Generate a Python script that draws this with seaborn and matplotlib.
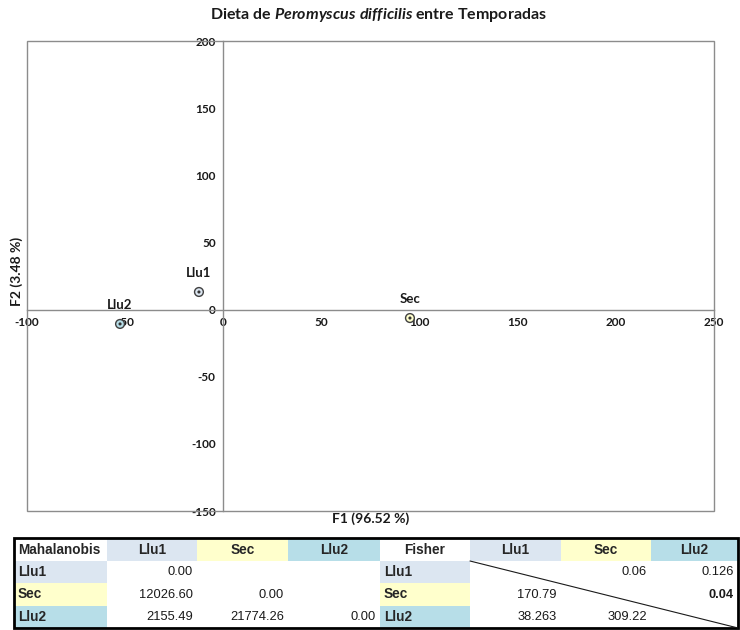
import matplotlib
matplotlib.use("Agg")
import matplotlib.pyplot as plt
from matplotlib.patches import Rectangle
import seaborn as sns
import pandas as pd

# Discriminant scores of each season group (F1, F2)
groups = ["Llu1", "Sec", "Llu2"]
f1_scores = [-12.4, 95.1, -52.6]
f2_scores = [13.1, -6.3, -10.7]
group_colors = ["#dce6f1", "#ffffcc", "#b7dee8"]

x_ticks = [-100, -50, 0, 50, 100, 150, 200, 250]
y_ticks = [-150, -100, -50, 0, 50, 100, 150, 200]

# Distance tables (lower triangle Mahalanobis, Fisher F / p-values)
maha_rows = [["0.00", "", ""],
             ["12026.60", "0.00", ""],
             ["2155.49", "21774.26", "0.00"]]
fisher_rows = [["", "0.06", "0.126"],
               ["170.79", "", "0.04"],
               ["38.263", "309.22", ""]]

sns.set_theme(style="white")
plt.rcParams["font.family"] = ["Lato", "DejaVu Sans"]
plt.rcParams["mathtext.fontset"] = "custom"
plt.rcParams["mathtext.it"] = "Lato:bold:italic"
plt.rcParams["mathtext.rm"] = "Lato:bold"

W, H = 740, 630
fig = plt.figure(figsize=(W / 100, H / 100), dpi=100)
fig.patch.set_facecolor("white")

ax = fig.add_axes([27 / W, 1 - 511 / H, 687 / W, 470 / H])
df = pd.DataFrame({"F1": f1_scores, "F2": f2_scores, "grupo": groups})

sns.scatterplot(data=df, x="F1", y="F2", hue="grupo", palette=group_colors,
                s=40, edgecolor="#404040", linewidth=1.0, legend=False, ax=ax,
                zorder=4)
sns.scatterplot(data=df, x="F1", y="F2", color="#333333", s=5,
                edgecolor="none", legend=False, ax=ax, zorder=5)

for g, x, y in zip(groups, f1_scores, f2_scores):
    ax.annotate(g, (x, y), xytext=(0, 13), textcoords="offset pixels",
                ha="center", va="bottom", fontsize=9.5, fontweight="bold",
                color="#1a1a1a", zorder=6)

ax.set_xlim(x_ticks[0], x_ticks[-1])
ax.set_ylim(y_ticks[0], y_ticks[-1])
ax.set_xticks(x_ticks)
ax.set_yticks(y_ticks)
ax.set_xticklabels([str(t) for t in x_ticks])
ax.set_yticklabels([str(t) for t in y_ticks])

axis_gray = "#8c8c8c"
ax.spines["left"].set_position(("data", 0))
ax.spines["bottom"].set_position(("data", 0))
ax.spines["top"].set_visible(False)
ax.spines["right"].set_visible(False)
for s in ("left", "bottom"):
    ax.spines[s].set_color(axis_gray)
    ax.spines[s].set_linewidth(1.0)
ax.add_patch(Rectangle((0, 0), 1, 1, transform=ax.transAxes, fill=False,
                       edgecolor=axis_gray, linewidth=1.0, zorder=1,
                       clip_on=False))
ax.tick_params(axis="both", direction="out", length=3.5, width=0.9,
               color=axis_gray, labelsize=8.5, labelcolor="#1a1a1a", pad=2)
for lbl in ax.get_xticklabels() + ax.get_yticklabels():
    lbl.set_fontweight("bold")
ax.grid(False)

ax.set_xlabel("F1 (96.52 %)", fontsize=10, fontweight="bold", color="#1a1a1a")
ax.set_ylabel("F2 (3.48 %)", fontsize=10, fontweight="bold", color="#1a1a1a")
ax.xaxis.set_label_coords(0.5, -0.002)
ax.yaxis.set_label_coords(-0.006, 0.51)

fig.text(378 / W, 1 - 15 / H,
         r"Dieta de $\it{Peromyscus\ difficilis}$ entre Temporadas",
         ha="center", va="center", fontsize=11.5, fontweight="bold",
         color="#1a1a1a")

# Tables below the plot, laid out in pixel coordinates
tax = fig.add_axes([0, 0, 1, 1])
tax.set_xlim(0, W)
tax.set_ylim(H, 0)
tax.axis("off")

col_edges = [14, 107, 197, 288, 380, 470, 561, 651, 738]
row_edges = [538, 561, 583, 606, 628]
tfont = ["Liberation Sans", "DejaVu Sans"]

header = ["Mahalanobis"] + groups + ["Fisher"] + groups
header_colors = ["white"] + group_colors + ["white"] + group_colors

for c in range(8):
    x0, x1 = col_edges[c], col_edges[c + 1]
    y0, y1 = row_edges[0], row_edges[1]
    tax.add_patch(Rectangle((x0, y0), x1 - x0, y1 - y0,
                            facecolor=header_colors[c], edgecolor="none"))
    if c == 0:
        tax.text(x0 + 4, (y0 + y1) / 2, header[c], ha="left", va="center",
                 fontsize=9.8, fontweight="bold", family=tfont)
    else:
        tax.text((x0 + x1) / 2, (y0 + y1) / 2, header[c], ha="center",
                 va="center", fontsize=9.8, fontweight="bold", family=tfont)

for r in range(3):
    y0, y1 = row_edges[r + 1], row_edges[r + 2]
    yc = (y0 + y1) / 2
    for c0 in (0, 4):
        x0, x1 = col_edges[c0], col_edges[c0 + 1]
        tax.add_patch(Rectangle((x0, y0), x1 - x0, y1 - y0,
                                facecolor=group_colors[r], edgecolor="none"))
        tax.text(x0 + 4, yc, groups[r], ha="left", va="center", fontsize=9.8,
                 fontweight="bold", family=tfont)
    for k in range(3):
        v = maha_rows[r][k]
        if v:
            tax.text(col_edges[k + 2] - 4, yc, v, ha="right", va="center",
                     fontsize=9.3, family=tfont, color="#1a1a1a")
        v = fisher_rows[r][k]
        if v:
            bold = (r == 1 and k == 2)
            tax.text(col_edges[k + 6] - 4, yc, v, ha="right", va="center",
                     fontsize=9.3, family=tfont, color="#1a1a1a",
                     fontweight="bold" if bold else "normal")

tax.plot([col_edges[5], col_edges[8]], [row_edges[1], row_edges[4]],
         color="#1a1a1a", linewidth=0.8)
tax.add_patch(Rectangle((col_edges[0], row_edges[0]),
                        col_edges[-1] - col_edges[0],
                        row_edges[-1] - row_edges[0],
                        fill=False, edgecolor="black", linewidth=2.0))

fig.savefig("out.png", dpi=100, facecolor="white")
